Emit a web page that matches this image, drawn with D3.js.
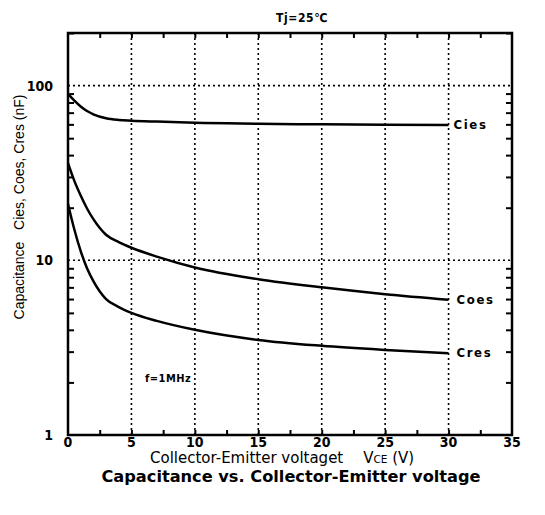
<!DOCTYPE html>
<html>
<head>
<meta charset="utf-8">
<script src="https://cdn.jsdelivr.net/npm/d3@7"></script>
<style>
  html, body { margin: 0; padding: 0; background: #fff; }
  svg { display: block; }
  .cond { font-family: "Liberation Sans Narrow", "DejaVu Sans Condensed", "Arial Narrow", sans-serif; font-weight: bold; }
  .norm { font-family: "Liberation Sans", Arial, Helvetica, sans-serif; }
  .wide { font-family: "DejaVu Sans", Verdana, sans-serif; }
</style>
</head>
<body>
<svg id="chart" width="545" height="515"></svg>
<script>
// ---- data ----
const vce  = [0, 0.5, 1, 1.5, 2, 3, 4, 5, 7, 10, 15, 20, 25, 30];
const cies = [90, 82, 76, 71.5, 68.5, 65, 63.6, 63, 62.2, 61.2, 60.5, 60, 59.6, 59.4];
const coes = [36, 28.5, 23.5, 19.8, 17.2, 14, 12.7, 11.8, 10.5, 9.1, 7.8, 7.0, 6.4, 5.95];
const cres = [21, 15, 11.3, 9, 7.6, 6.0, 5.4, 5.0, 4.5, 4.0, 3.5, 3.24, 3.07, 2.94];
const seriesNames = ["Cies", "Coes", "Cres"];
const xTicks = [0, 5, 10, 15, 20, 25, 30, 35];
const yTicks = [1, 10, 100];
const xTitle = "Collector-Emitter voltaget";
const chartTitle = "Capacitance vs. Collector-Emitter voltage";
const condition = "Tj=25\u2103";
const freqNote = "f=1MHz";

// ---- layout ----
const L = 68, R = 512, T = 33, B = 435;
const svg = d3.select("#chart");
const x = d3.scaleLinear().domain([0, 35]).range([L, R]);
const y = d3.scaleLog().domain([1, 200]).range([B, T]);

// grid (dotted)
const g = svg.append("g");
g.selectAll("line.vg").data(xTicks.filter(d => d > 0 && d < 35)).enter().append("line")
  .attr("x1", d => x(d)).attr("x2", d => x(d)).attr("y1", T).attr("y2", B)
  .attr("stroke", "#000").attr("stroke-width", 1.6).attr("stroke-dasharray", "2,3");
g.selectAll("line.hg").data([10, 100]).enter().append("line")
  .attr("x1", L).attr("x2", R).attr("y1", d => y(d)).attr("y2", d => y(d))
  .attr("stroke", "#000").attr("stroke-width", 1.6).attr("stroke-dasharray", "2,3");

// minor ticks x (every 2.5) inside, bottom and top
const xMinor = d3.range(2.5, 35, 2.5);
const bottomAxis = d3.axisBottom(x).tickValues(xMinor).tickSizeInner(-5).tickSizeOuter(0).tickFormat("");
const topAxis = d3.axisTop(x).tickValues(xMinor).tickSizeInner(-5).tickSizeOuter(0).tickFormat("");
const yMinor = [];
[1, 10, 100].forEach(dec => { for (let k = 2; k <= 9; k++) { if (dec * k <= 200) yMinor.push(dec * k); } });
const leftAxis = d3.axisLeft(y).tickValues(yMinor).tickSizeInner(-6).tickSizeOuter(0).tickFormat("");
const rightAxis = d3.axisRight(y).tickValues(yMinor).tickSizeInner(-6).tickSizeOuter(0).tickFormat("");
[[bottomAxis, `translate(0,${B})`], [topAxis, `translate(0,${T})`],
 [leftAxis, `translate(${L},0)`], [rightAxis, `translate(${R},0)`]].forEach(([ax, tr]) => {
  const a = svg.append("g").attr("transform", tr).call(ax);
  a.select(".domain").remove();
  a.selectAll("line").attr("stroke", "#000").attr("stroke-width", 2);
});

// tick labels
svg.append("g").selectAll("text").data(xTicks).enter().append("text")
  .attr("class", "cond").attr("x", d => x(d)).attr("y", 447)
  .attr("text-anchor", "middle").attr("font-size", 14).text(d => d);
svg.append("g").selectAll("text").data(yTicks).enter().append("text")
  .attr("class", "cond").attr("x", 53).attr("y", d => y(d) + 5)
  .attr("text-anchor", "end").attr("font-size", 14).text(d => d);

// curves
const line = d3.line().x((d, i) => x(vce[i])).y(d => y(d)).curve(d3.curveMonotoneX);
[cies, coes, cres].forEach(s => {
  svg.append("path").attr("d", line(s)).attr("fill", "none")
    .attr("stroke", "#000").attr("stroke-width", 2.5);
});

// frame
svg.append("rect").attr("x", L).attr("y", T).attr("width", R - L).attr("height", B - T)
  .attr("fill", "none").attr("stroke", "#000").attr("stroke-width", 2.5);

// series labels
const lastIdx = vce.length - 1;
const labelOffsets = [5, 8, 8];
[cies, coes, cres].forEach((s, i) => {
  svg.append("text").attr("class", "cond").attr("font-size", 13).attr("letter-spacing", 1.6)
    .attr("x", x(vce[lastIdx]) + labelOffsets[i]).attr("y", y(s[lastIdx]) + 4)
    .text(seriesNames[i]);
});

// annotations
svg.append("text").attr("class", "cond").attr("font-size", 12).attr("letter-spacing", 0.6)
  .attr("x", 302).attr("y", 22).attr("text-anchor", "middle").text(condition);
svg.append("text").attr("class", "cond").attr("font-size", 11).attr("letter-spacing", 0.5)
  .attr("x", 145).attr("y", 382).text(freqNote);

// x axis title
const xt = svg.append("text").attr("class", "wide").attr("font-size", 15)
  .attr("x", 150).attr("y", 463);
xt.append("tspan").text(xTitle);
xt.append("tspan").attr("dx", 20).text("V");
xt.append("tspan").attr("font-size", 10.5).text("CE");
xt.append("tspan").text(" (V)");

// y axis title
svg.append("text").attr("class", "norm").attr("font-size", 14)
  .attr("transform", "translate(24,207) rotate(-90)").attr("text-anchor", "middle")
  .attr("xml:space", "preserve")
  .text("Capacitance   Cies, Coes, Cres (nF)");

// chart title
svg.append("text").attr("class", "wide").attr("font-size", 16.2).attr("font-weight", "bold")
  .attr("x", 291).attr("y", 482).attr("text-anchor", "middle").text(chartTitle);
</script>
</body>
</html>
